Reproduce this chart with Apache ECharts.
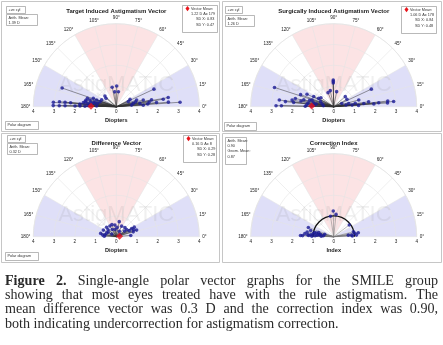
<!DOCTYPE html>
<html>
<head>
<meta charset="utf-8">
<script src="https://cdn.jsdelivr.net/npm/echarts@6/dist/echarts.min.js"></script>
<style>
  html, body { margin: 0; padding: 0; background: #fff; }
  #chart { width: 443px; height: 345px; }
</style>
</head>
<body>
<div id="chart"></div>
<script>
// ---- Data -------------------------------------------------------------
// Angle ticks (degrees) and diopter ticks along the baseline
const angleTicks = [0, 15, 30, 45, 60, 75, 90, 105, 120, 135, 150, 165, 180];
const radiusTicks = [-4, -3, -2, -1, 0, 1, 2, 3, 4];

// Target induced astigmatism: magnitude (D) and axis (deg)
const tiaMagnitude = [2.76, 3.04, 3.04, 2.75, 2.75, 2.48, 2.47, 2.21, 1.99, 1.75, 1.76, 1.51, 1.50, 1.41, 1.31, 1.27, 1.18, 1.07, 1.00, 0.82, 0.95, 0.78, 0.64, 1.52, 1.35, 1.20, 1.45, 1.10, 0.92, 1.60, 0.75, 1.25,
  1.00, 0.96, 0.73, 0.72,
  2.00, 3.08, 2.54, 2.52, 2.29, 1.95, 1.73, 1.52, 1.34, 1.15, 1.03, 0.83, 0.75, 0.74, 0.63, 1.30, 0.95, 1.60];
const tiaAxis = [161, 176, 179, 175, 179, 175, 179, 175, 179, 179, 176, 179, 168, 173, 166, 176, 160, 171, 161, 163, 178, 155, 141, 171, 178, 175, 164, 168, 170, 173, 137, 170,
  89, 102, 82, 96,
  25, 4, 10, 5, 9, 6, 11, 5, 14, 8, 18, 11, 28, 6, 23, 3, 14, 8];

// Surgically induced astigmatism
const siaMagnitude = [3.00, 2.78, 2.52, 2.64, 2.34, 2.03, 1.94, 1.89, 1.37, 1.48, 1.42, 1.08, 1.09, 1.08, 0.85, 0.83, 0.68, 0.57, 1.25, 1.60, 1.70, 1.20, 0.95, 0.75, 1.30, 1.00, 0.50,
  0.73, 0.79, 1.14, 1.22, 1.29, 0.74,
  2.00, 2.90, 2.60, 2.62, 2.18, 1.94, 1.70, 1.46, 1.25, 1.05, 0.89, 0.73, 0.74, 0.42, 0.74, 1.20, 0.60];
const siaAxis = [162, 179, 179, 173, 174, 171, 174, 168, 179, 167, 155, 178, 163, 153, 171, 151, 159, 167, 172, 170, 160, 165, 176, 145, 176, 169, 175,
  112, 102, 91, 91, 91, 79,
  25, 5, 4, 6, 5, 4, 8, 6, 15, 9, 5, 29, 41, 22, 12, 3, 8];

// Difference vector
const dvMagnitude = [0.74, 0.57, 0.60, 0.65, 0.70, 0.77, 0.66, 0.57, 0.61, 0.61, 0.69, 0.84, 0.98, 0.85, 1.03, 0.45, 0.50, 0.40, 0.35, 0.55, 0.30, 0.48, 0.25, 0.62, 0.52, 0.70, 0.20, 0.58, 0.90, 0.45];
const dvAxis = [79, 97, 121, 136, 153, 168, 173, 63, 47, 35, 25, 28, 28, 16, 18, 150, 160, 120, 100, 170, 60, 35, 150, 110, 140, 5, 30, 178, 22, 85];

// Correction index
const ciValue = [1.24, 1.08, 1.00, 0.87, 1.03, 1.20, 0.98, 0.71, 1.25, 1.40, 1.50, 1.30, 1.10, 1.00, 0.90, 0.80, 0.70, 0.60, 1.15, 1.30, 0.95, 1.05, 0.85, 0.75, 0.65, 1.20, 0.50, 0.45, 0.94, 1.10, 0.90, 1.60];
const ciAxis = [91, 84, 99, 5, 9, 9, 14, 6, 176, 174, 178, 170, 175, 172, 177, 175, 172, 178, 165, 160, 168, 179, 168, 165, 170, 177, 175, 165, 37, 4, 2, 178];

// Vector means [magnitude, axis]
const tiaMean = [1.22, 179];
const siaMean = [1.06, 178];
const dvMean = [0.16, 8];
const ciReference = [1];

// Shaded angular bands (degrees)
const pinkBand = [[60, 120]];
const blueBands = [[0, 30], [150, 180]];

// Caption
const captionLines = [
  'Figure 2. Single-angle polar vector graphs for the SMILE group',
  'showing that most eyes treated have with the rule astigmatism. The',
  'mean difference vector was 0.3 D and the correction index was 0.90,',
  'both indicating undercorrection for astigmatism correction.'
];

// ---- Layout -------------------------------------------------------------
const R = 83;
const FONT = '"Liberation Sans", Arial, sans-serif';
const panels = [
  { cx: 116.3, cy: 106.7, frame: [1, 1, 218, 130], title: 'Target Induced Astigmatism Vector', axisName: 'Diopters',
    marks: [tiaMagnitude, tiaAxis], mean: tiaMean,
    boxes: [
      { x: 6, y: 6, w: 19, h: 7, lines: ['+ve cyl'] },
      { x: 6, y: 14, w: 31, h: 11, lines: ['Arith. Mean:', '1.39 D'] },
      { x: 182, y: 5, w: 35, h: 27, lines: ['Vector Mean:', '1.22 D Ax 179', 'SD X: 0.83', 'SD Y: 0.47'], marker: true },
      { x: 5, y: 121, w: 33, h: 8, lines: ['Polar diagram'] }
    ] },
  { cx: 333.7, cy: 106.7, frame: [222, 1, 219, 130], title: 'Surgically Induced Astigmatism Vector', axisName: 'Diopters',
    marks: [siaMagnitude, siaAxis], mean: siaMean,
    boxes: [
      { x: 225, y: 6, w: 17, h: 7, lines: ['+ve cyl'] },
      { x: 225, y: 15, w: 29, h: 11, lines: ['Arith. Mean:', '1.26 D'] },
      { x: 401, y: 6, w: 35, h: 27, lines: ['Vector Mean:', '1.06 D Ax 178', 'SD X: 0.84', 'SD Y: 0.48'], marker: true },
      { x: 224, y: 122, w: 32, h: 8, lines: ['Polar diagram'] }
    ] },
  { cx: 116.3, cy: 236.7, frame: [1, 133, 218, 129], title: 'Difference Vector', axisName: 'Diopters',
    marks: [dvMagnitude, dvAxis], mean: dvMean,
    boxes: [
      { x: 7, y: 135, w: 18, h: 7, lines: ['+ve cyl'] },
      { x: 7, y: 143, w: 30, h: 11, lines: ['Arith. Mean:', '0.32 D'] },
      { x: 183, y: 135, w: 33, h: 27, lines: ['Vector Mean:', '0.16 D Ax 8', 'SD X: 0.29', 'SD Y: 0.28'], marker: true },
      { x: 5, y: 252, w: 33, h: 8, lines: ['Polar diagram'] }
    ] },
  { cx: 333.7, cy: 236.7, frame: [222, 133, 219, 129], title: 'Correction Index', axisName: 'Index',
    marks: [ciValue, ciAxis], mean: null, arc: ciReference,
    boxes: [
      { x: 225, y: 137, w: 21, h: 27, lines: ['Arith. Mean:', '0.90', 'Geom. Mean:', '0.87'] }
    ] }
];

const PINK = '#fce3e4';
const BLUE = '#dfdff8';
const GRID = '#e4e4e4';
const DOT = '#1c1c96';
const RED = '#e8141b';

const polar = [], angleAxis = [], radiusAxis = [], grid = [], xAxis = [], yAxis = [], series = [], graphic = [];

panels.forEach((p, i) => {
  polar.push({ center: [p.cx, p.cy], radius: R });
  angleAxis.push({
    polarIndex: i, type: 'value', min: angleTicks[0], max: angleTicks[angleTicks.length - 1], interval: 15,
    startAngle: 0, endAngle: 180, clockwise: false, z: 1,
    axisLine: { show: true, lineStyle: { color: GRID, width: 0.7 } },
    axisTick: { show: false },
    axisLabel: { fontSize: 4.6, color: '#222', margin: 3, fontFamily: FONT, formatter: v => v + '°' },
    splitLine: { show: true, lineStyle: { color: GRID, width: 0.6 } }
  });
  radiusAxis.push({
    polarIndex: i, type: 'value', min: 0, max: 4, interval: 1, z: 1,
    axisLine: { show: false }, axisTick: { show: false }, axisLabel: { show: false },
    splitLine: { show: true, lineStyle: { color: GRID, width: 0.6 } }
  });
  grid.push({ left: p.cx - R, width: 2 * R, top: p.cy - 20, height: 20 });
  xAxis.push({
    gridIndex: i, type: 'value', min: radiusTicks[0], max: radiusTicks[radiusTicks.length - 1], interval: 1,
    axisLine: { show: false }, axisTick: { show: false }, splitLine: { show: false },
    axisLabel: { fontSize: 4.6, color: '#222', margin: 3, fontFamily: FONT, formatter: v => String(Math.abs(v)) },
    name: p.axisName, nameLocation: 'middle', nameGap: 11,
    nameTextStyle: { fontSize: 5.6, fontWeight: 'bold', color: '#222', fontFamily: FONT }
  });
  yAxis.push({ gridIndex: i, show: false, min: 0, max: 1 });

  // shaded bands
  const bands = pinkBand.map(b => [0, b[0], b[1], 0]).concat(blueBands.map(b => [0, b[0], b[1], 1]));
  series.push({
    type: 'custom', coordinateSystem: 'polar', polarIndex: i, z: 0, silent: true,
    data: bands,
    renderItem: (params, api) => {
      const c = api.coord([0, 0]);
      const e = api.coord([4, 0]);
      const r = Math.hypot(e[0] - c[0], e[1] - c[1]);
      const a0 = api.value(1), a1 = api.value(2);
      return {
        type: 'sector',
        shape: { cx: c[0], cy: c[1], r0: 0, r: r, startAngle: -a1 * Math.PI / 180, endAngle: -a0 * Math.PI / 180, clockwise: true },
        style: { fill: api.value(3) === 0 ? PINK : BLUE }
      };
    }
  });

  const pts = p.marks[0].map((m, k) => [m, p.marks[1][k]]);
  // spokes from the origin to each mark
  series.push({
    type: 'custom', coordinateSystem: 'polar', polarIndex: i, z: 3, silent: true,
    data: pts,
    renderItem: (params, api) => {
      const a = api.coord([0, api.value(1)]);
      const b = api.coord([api.value(0), api.value(1)]);
      return { type: 'line', shape: { x1: a[0], y1: a[1], x2: b[0], y2: b[1] }, style: { stroke: i === 3 ? '#777' : '#333', lineWidth: 0.5 } };
    }
  });
  if (p.arc) {
    series.push({
      type: 'custom', coordinateSystem: 'polar', polarIndex: i, z: 4, silent: true,
      data: [[p.arc[0], 0]],
      renderItem: (params, api) => {
        const c = api.coord([0, 0]);
        const e = api.coord([api.value(0), 0]);
        const r = Math.hypot(e[0] - c[0], e[1] - c[1]);
        return { type: 'arc', shape: { cx: c[0], cy: c[1], r: r, startAngle: Math.PI, endAngle: 2 * Math.PI, clockwise: true }, style: { stroke: '#111', lineWidth: 1.3, fill: null } };
      }
    });
  }
  series.push({
    type: 'scatter', coordinateSystem: 'polar', polarIndex: i, z: 5, silent: true,
    symbol: 'circle', symbolSize: 3.6, itemStyle: { color: DOT },
    data: pts
  });
  if (p.mean) {
    series.push({
      type: 'scatter', coordinateSystem: 'polar', polarIndex: i, z: 6, silent: true,
      symbol: 'diamond', symbolSize: 7, itemStyle: { color: RED },
      data: [p.mean]
    });
  }

  // frame
  graphic.push({ type: 'rect', z: -1, shape: { x: p.frame[0] + 0.5, y: p.frame[1] + 0.5, width: p.frame[2], height: p.frame[3] }, style: { fill: null, stroke: '#b8b8b8', lineWidth: 0.8 } });
  // watermark
  graphic.push({ type: 'text', z: 2, x: p.cx, y: p.cy - 22, style: { text: 'AstigMATIC', fontSize: 22, fontFamily: FONT, fill: 'rgba(120,120,120,0.11)', align: 'center', verticalAlign: 'middle' } });
  // title
  graphic.push({ type: 'text', z: 10, x: p.cx, y: p.frame[1] + 10, style: { text: p.title, fontSize: 6, fontWeight: 'bold', fontFamily: FONT, fill: '#222', align: 'center', verticalAlign: 'middle' } });
  // info boxes
  p.boxes.forEach(b => {
    graphic.push({ type: 'rect', z: 10, shape: { x: b.x + 0.5, y: b.y + 0.5, width: b.w, height: b.h }, style: { fill: '#fff', stroke: '#8a8a8a', lineWidth: 0.6 } });
    b.lines.forEach((t, k) => {
      let tx = b.x + 2.5;
      if (b.marker) tx = b.x + (k < 2 ? 9 : 14);
      graphic.push({ type: 'text', z: 11, x: tx, y: b.y + 3.6 + k * 5.4, style: { text: t, fontSize: 3.8, fontFamily: FONT, fill: '#333', verticalAlign: 'middle' } });
    });
    if (b.marker) {
      const mx = b.x + 5.5, my = b.y + 3.6;
      graphic.push({ type: 'polygon', z: 11, shape: { points: [[mx, my - 2.6], [mx + 2, my], [mx, my + 2.6], [mx - 2, my]] }, style: { fill: RED } });
    }
  });
});

// ---- Caption (justified) -----------------------------------------------
const SERIF = '"Liberation Serif", "Times New Roman", serif';
const capLeft = 5, capRight = 438, capSize = 14.1, capTop = 281, capLead = 14.3;
const ctx = document.createElement('canvas').getContext('2d');
function wordWidth(w, bold) { ctx.font = (bold ? 'bold ' : '') + capSize + 'px ' + SERIF; return ctx.measureText(w).width; }
captionLines.forEach((line, li) => {
  const words = line.split(' ');
  const bolds = words.map((w, k) => li === 0 && k < 2);
  const widths = words.map((w, k) => wordWidth(w, bolds[k]));
  const total = widths.reduce((a, b) => a + b, 0);
  const justify = li < captionLines.length - 1;
  const gap = justify ? (capRight - capLeft - total) / (words.length - 1) : wordWidth(' ', false);
  let x = capLeft;
  words.forEach((w, k) => {
    graphic.push({ type: 'text', z: 10, x: x, y: capTop + li * capLead, style: { text: w, fontSize: capSize, fontWeight: bolds[k] ? 'bold' : 'normal', fontFamily: SERIF, fill: '#2a2a2a', verticalAlign: 'middle' } });
    x += widths[k] + gap;
  });
});

const chart = echarts.init(document.getElementById('chart'), null, { renderer: 'canvas' });
chart.setOption({
  animation: false,
  backgroundColor: '#fff',
  polar, angleAxis, radiusAxis, grid, xAxis, yAxis, series,
  graphic: { elements: graphic }
});
</script>
</body>
</html>
